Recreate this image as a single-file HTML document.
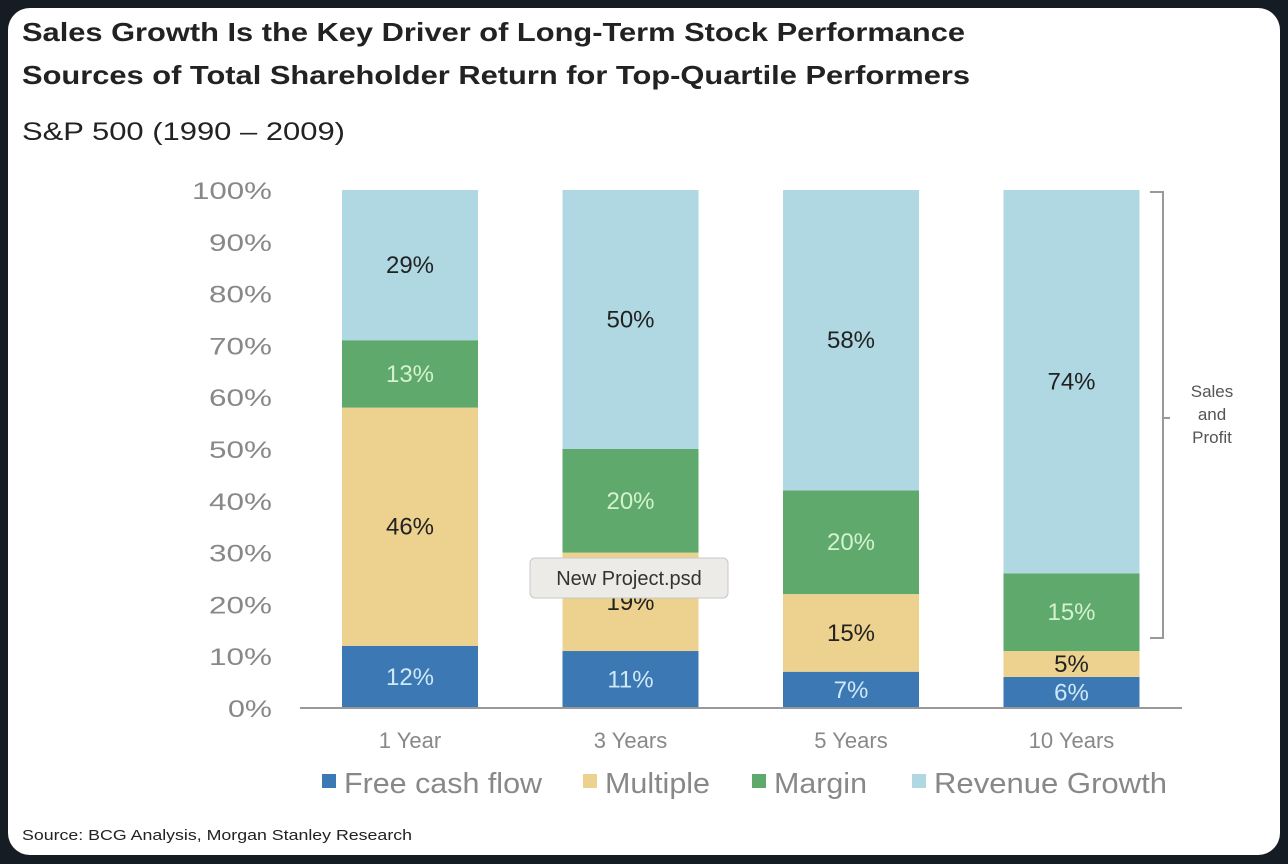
<!DOCTYPE html>
<html><head><meta charset="utf-8"><style>
html,body{margin:0;padding:0;background:#151c24;width:1288px;height:864px;overflow:hidden}
#card{position:absolute;left:8px;top:8px;width:1272px;height:847px;background:#fff;border-radius:22px;overflow:hidden}
svg{position:absolute;left:0;top:0}
text{font-family:"Liberation Sans",Arial,sans-serif}
</style></head><body>
<div id="card"></div>
<svg id="chart" width="1288" height="864">
<text x="22" y="41" font-size="26" font-weight="bold" fill="#222" textLength="943" lengthAdjust="spacingAndGlyphs">Sales Growth Is the Key Driver of Long-Term Stock Performance</text>
<text x="22" y="84" font-size="26" font-weight="bold" fill="#222" textLength="948" lengthAdjust="spacingAndGlyphs">Sources of Total Shareholder Return for Top-Quartile Performers</text>
<text x="22" y="140" font-size="25" fill="#222" textLength="323" lengthAdjust="spacingAndGlyphs">S&amp;P 500 (1990 – 2009)</text>
<text x="22" y="840" font-size="15" fill="#222" textLength="390" lengthAdjust="spacingAndGlyphs">Source: BCG Analysis, Morgan Stanley Research</text>
<g id="bars"></g>
<g id="axes"></g>
</svg>
<script>
const categories=["1 Year","3 Years","5 Years","10 Years"];
const seriesNames=["Free cash flow","Multiple","Margin","Revenue Growth"];
const freeCashFlow=[12,11,7,6];
const multiple=[46,19,15,5];
const margin=[13,20,20,15];
const revenueGrowth=[29,50,58,74];
const yTicks=[0,10,20,30,40,50,60,70,80,90,100];
const colors=["#3b78b4","#ecd28e","#5ea96b","#afd8e3"];
const labelColors=["#cfe9f7","#222","#d5f2cf","#222"];
const series=[freeCashFlow,multiple,margin,revenueGrowth];
const NS="http://www.w3.org/2000/svg";
const y=v=>708-v*5.18;
const x=i=>342+i*220.5;
const bw=136;
const bars=document.getElementById('bars'),axes=document.getElementById('axes');
function mk(tag,attrs,parent,txt){const e=document.createElementNS(NS,tag);for(const k in attrs)e.setAttribute(k,attrs[k]);if(txt!==undefined)e.textContent=txt;parent.appendChild(e);return e;}
const tickW={2:44,3:63,4:80};
yTicks.forEach(t=>{
  const s=t+'%';
  const e=mk('text',{x:272,y:y(t)+9,'font-size':24,fill:'#888','text-anchor':'end',textLength:tickW[s.length],lengthAdjust:'spacingAndGlyphs'},axes,s);
  
  
});
categories.forEach((c,i)=>{
  let base=0;
  series.forEach((s,j)=>{
    const v=s[i];
    const r=mk('rect',{x:x(i),y:y(base+v),width:bw,height:y(base)-y(base+v),fill:colors[j]},bars);
    
    
    const ly=(y(base)+y(base+v))/2+8;
    const t=mk('text',{x:x(i)+bw/2,y:ly,'font-size':24,fill:labelColors[j],'text-anchor':'middle'},bars,v+'%');
    
    
    base+=v;
  });
  const cl=mk('text',{x:x(i)+bw/2,y:748,'font-size':22,fill:'#888','text-anchor':'middle'},axes,c);
  
  
});
const ax=mk('line',{x1:300,x2:1182,y1:708,y2:708,stroke:'#999','stroke-width':2},axes);


const br=mk('path',{d:'M1150 192 H1163 V638 H1150 M1163 418 H1170',fill:'none',stroke:'#999','stroke-width':2},axes);


["Sales","and","Profit"].forEach((w,k)=>{
  const t=mk('text',{x:1212,y:397+k*23,'font-size':17,fill:'#555','text-anchor':'middle'},axes,w);
  
  
});
const legX=[322,583,752,912];
const legW=[198,105,93,233];
seriesNames.forEach((n,j)=>{
  const r=mk('rect',{x:legX[j],y:774,width:14,height:14,fill:colors[j]},axes);
  
  
  const t=mk('text',{x:legX[j]+22,y:793,'font-size':29,fill:'#888',textLength:legW[j],lengthAdjust:'spacingAndGlyphs'},axes,n);
  
  
});
const tip=mk('g',{},axes);


mk('rect',{x:530,y:558,width:198,height:40,rx:5,fill:'#ecebe8',stroke:'#c8c8c8'},tip);
mk('text',{x:629,y:585,'font-size':20,fill:'#333','text-anchor':'middle'},tip,'New Project.psd');
</script>
</body></html>
